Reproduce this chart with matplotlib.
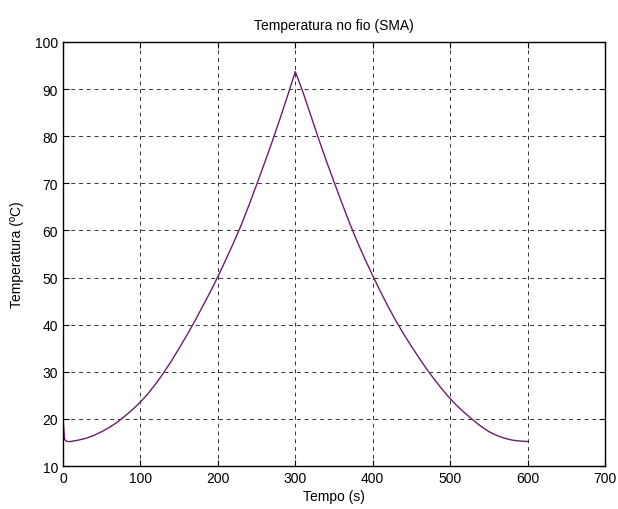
import matplotlib
matplotlib.use("Agg")
import matplotlib.pyplot as plt

plt.rcParams['font.family'] = ['Liberation Sans', 'DejaVu Sans']

tempo = [0, 2, 5, 10, 20, 30, 40, 50, 60, 70, 80, 90, 100, 110, 120, 130, 140, 150,
         160, 170, 180, 190, 200, 210, 220, 230, 240, 250, 260, 270, 280, 290, 300,
         310, 320, 330, 340, 350, 360, 370, 380, 390, 400, 410, 420, 430, 440,
         450, 460, 470, 480, 490, 500, 510, 520, 530, 540, 550, 560, 570, 580, 590, 600]
temperatura = [20.0, 15.6, 15.2, 15.2, 15.5, 15.9, 16.5, 17.3, 18.2, 19.3, 20.6, 22.0,
               23.6, 25.4, 27.5, 29.8, 32.3, 35.0, 37.8, 40.7, 43.8, 46.9, 50.2, 53.7,
               57.3, 61.1, 65.3, 69.7, 74.2, 78.8, 83.6, 88.6, 93.7,
               89.3, 84.4, 79.5, 74.8, 70.3, 65.9, 61.6, 57.6, 53.9, 50.4, 47.0,
               43.8, 40.8, 38.0, 35.4, 32.9, 30.5, 28.3, 26.2, 24.3, 22.6, 21.1, 19.7,
               18.4, 17.3, 16.5, 15.9, 15.5, 15.3, 15.2]

xticks = [0, 100, 200, 300, 400, 500, 600, 700]
yticks = [10, 20, 30, 40, 50, 60, 70, 80, 90, 100]

fig = plt.figure(figsize=(6.18, 5.10), dpi=100)
ax = fig.add_axes([0.102, 0.0843, 0.877, 0.8314])
ax.plot(tempo, temperatura, color='#6a1f6a', linewidth=1.0)
ax.set_xlim(0, 700)
ax.set_ylim(10, 100)
ax.set_xticks(xticks)
ax.set_yticks(yticks)
ax.grid(True, color='black', linestyle=(0, (4, 4)), linewidth=0.7, alpha=0.8)
ax.tick_params(direction='in', top=True, right=True, labelsize=10, length=4)
for s in ax.spines.values():
    s.set_linewidth(1.0)
ax.set_title('Temperatura no fio (SMA)', fontsize=10, pad=9)
ax.set_xlabel('Tempo (s)', fontsize=10, labelpad=3)
ax.set_ylabel('Temperatura (ºC)', fontsize=10, labelpad=8)
fig.savefig('out.png', dpi=100)
